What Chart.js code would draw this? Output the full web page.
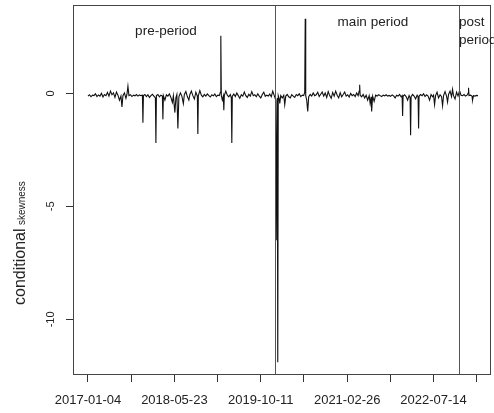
<!DOCTYPE html>
<html>
<head>
<meta charset="utf-8">
<script src="https://cdn.jsdelivr.net/npm/chart.js@4.4.1/dist/chart.umd.min.js"></script>
<style>
html,body{margin:0;padding:0;background:#fff;}
canvas{display:block;}
</style>
</head>
<body>
<canvas id="c" width="494" height="413"></canvas>
<script>
// ---- data (observation index, conditional skewness) ----
const obsIndex = [
  0,6,12,18,24,30,36,42,48,54,
  60,66,72,78,84,90,96,102,108,114,
  120,126,132,136,140,146,152,156,160,164,
  170,176,182,188,194,200,206,212,218,220,
  222,228,234,240,246,252,258,264,270,272,
  274,280,286,292,298,300,302,308,314,320,
  326,332,338,342,348,352,356,360,364,370,
  376,382,386,392,398,404,408,414,420,426,
  432,438,440,442,448,454,460,466,472,478,
  484,490,496,502,508,514,520,526,530,532,
  534,538,542,544,546,552,558,564,570,574,
  576,578,584,590,596,602,608,614,620,626,
  632,638,644,650,656,662,668,674,680,686,
  692,698,704,710,716,722,728,734,740,746,
  752,756,758,760,762,766,768,772,778,784,
  788,792,798,804,810,816,822,828,834,840,
  846,852,858,864,868,870,872,876,880,884,
  890,896,902,908,914,920,926,932,938,944,
  950,956,962,968,974,980,986,992,998,1004,
  1010,1016,1022,1028,1034,1040,1046,1052,1058,1064,
  1070,1076,1082,1086,1088,1090,1096,1102,1108,1114,
  1120,1126,1130,1134,1136,1140,1146,1152,1158,1164,
  1170,1176,1182,1188,1194,1200,1206,1212,1218,1224,
  1230,1236,1242,1248,1254,1258,1260,1262,1268,1274,
  1280,1286,1290,1292,1294,1300,1306,1312,1318,1322,
  1324,1326,1332,1338,1344,1350,1356,1362,1368,1374,
  1380,1384,1388,1392,1398,1404,1410,1416,1420,1424,
  1430,1436,1440,1444,1450,1456,1460,1464,1470,1476,
  1482,1488,1494,1500,1506,1512,1518,1522,1524,1526,
  1532,1538,1540,1544,1550,1556,1562
];
const skewness = [
  -0.12,-0.06,-0.15,-0.08,-0.1,-0.02,-0.14,-0.07,-0.12,0.0,
  -0.16,-0.05,-0.1,0.04,-0.12,0.1,-0.06,0.02,-0.18,0.06,
  -0.08,-0.3,-0.12,-0.6,-0.1,0.02,-0.22,-0.05,0.32,-0.1,
  -0.06,-0.14,-0.08,-0.11,-0.05,-0.12,-0.07,-0.1,-0.08,-1.3,
  -0.1,-0.05,-0.14,-0.06,-0.18,-0.1,-0.04,-0.12,-0.2,-2.2,
  -0.1,-0.05,-0.15,-0.08,-0.12,-1.15,-0.1,-0.3,-0.06,-0.12,
  -0.02,-0.18,-0.4,-0.1,-0.85,-0.2,-0.05,-1.55,-0.15,0.02,
  -0.12,-0.45,-0.05,0.08,-0.14,-0.3,-0.06,0.1,-0.1,-0.25,
  0.05,-0.12,-1.8,-0.1,0.12,-0.08,-0.15,-0.05,-0.12,-0.02,
  -0.1,-0.16,-0.06,-0.11,-0.03,-0.14,-0.08,-0.1,0.05,2.55,
  -0.1,-0.3,-0.12,-0.75,-0.1,0.1,-0.08,-0.15,-0.05,-0.2,
  -2.2,-0.12,-0.03,-0.14,0.02,-0.1,-0.22,-0.06,-0.12,0.06,
  -0.1,-0.18,-0.04,-0.12,0.08,-0.1,-0.06,-0.15,-0.02,-0.12,
  -0.2,-0.05,0.05,-0.13,-0.08,-0.12,-0.03,-0.15,0.1,-0.1,
  -0.3,-6.5,-0.2,-11.9,-0.1,-0.25,-0.45,-0.1,-0.2,-0.08,
  -0.5,-0.12,-0.05,-0.15,-0.2,-0.06,-0.12,-0.18,-0.05,-0.1,
  -0.02,-0.14,-0.08,-0.1,0.05,3.3,-0.1,-0.3,-0.8,-0.15,
  -0.05,-0.12,0.02,-0.1,-0.06,0.05,-0.14,-0.04,0.06,-0.12,
  0.02,-0.18,0.08,-0.1,-0.22,0.04,-0.12,0.1,-0.08,-0.2,
  0.03,-0.15,-0.05,0.06,-0.12,-0.06,-0.16,0.0,-0.1,-0.05,
  -0.14,0.02,-0.1,0.1,0.38,-0.08,-0.15,-0.05,-0.2,-0.08,
  -0.3,-0.1,-0.45,-0.15,-0.8,-0.12,-0.35,-0.08,-0.12,-0.06,
  -0.1,-0.14,-0.08,-0.11,-0.06,-0.12,-0.09,-0.13,-0.07,-0.11,
  -0.2,-0.08,-0.12,-0.05,-0.15,-0.1,-1.0,-0.12,-0.06,-0.14,
  -0.3,-0.1,-0.2,-1.85,-0.15,-0.05,-0.12,-0.25,-0.08,-0.15,
  -1.55,-0.12,-0.05,-0.1,-0.02,-0.14,-0.06,-0.12,-0.3,-0.05,
  -0.15,-0.08,-0.5,-0.1,0.05,-0.2,-0.06,-0.15,-0.55,-0.1,
  0.08,-0.12,-0.38,-0.05,0.1,-0.15,0.18,-0.1,-0.25,0.05,
  -0.12,0.12,-0.08,-0.1,-0.05,-0.12,-0.08,0.0,0.25,-0.1,
  -0.08,-0.12,-0.3,-0.1,-0.12,-0.09,-0.1
];
const xTickIndex = [0,173,346,519,692,865,1038,1211,1384,1557];
const xTickLabels = ['2017-01-04','','2018-05-23','','2019-10-11','','2021-02-26','','2022-07-14',''];
const yTickValues = [-10,-5,0];
const yTickLabels = ['-10','-5','0'];
const periodBreaks = [749,1486];
const periodNames = ['pre-period','main period','post\nperiod'];

const FONT = '"Liberation Sans", Arial, Helvetica, sans-serif';
const INK = '#222';

const decor = {
  id: 'decor',
  afterDraw(chart) {
    const {ctx, chartArea: a, scales: {x, y}} = chart;
    ctx.save();
    // period boundaries
    ctx.strokeStyle = '#555';
    ctx.lineWidth = 1;
    periodBreaks.forEach(b => {
      const px = Math.round(x.getPixelForValue(b)) + 0.5;
      ctx.beginPath(); ctx.moveTo(px, a.top); ctx.lineTo(px, a.bottom); ctx.stroke();
    });
    // box
    ctx.strokeStyle = '#444';
    ctx.strokeRect(Math.round(a.left) + 0.5, Math.round(a.top) + 0.5,
                   Math.round(a.right - a.left) - 1, Math.round(a.bottom - a.top) - 1);
    // y tick marks
    ctx.fillStyle = '#333';
    yTickValues.forEach(v => {
      const py = Math.round(y.getPixelForValue(v));
      ctx.fillRect(Math.round(a.left) - 7, py, 7, 1);
    });
    // period names
    ctx.fillStyle = INK;
    ctx.font = '13.5px ' + FONT;
    ctx.textBaseline = 'middle';
    ctx.textAlign = 'center';
    ctx.fillText(periodNames[0], x.getPixelForValue(312), y.getPixelForValue(2.75));
    ctx.fillText(periodNames[1], x.getPixelForValue(1141), y.getPixelForValue(3.15));
    ctx.textAlign = 'left';
    const post = periodNames[2].split('\n');
    ctx.fillText(post[0], x.getPixelForValue(periodBreaks[1]), y.getPixelForValue(3.15));
    ctx.fillText(post[1], x.getPixelForValue(periodBreaks[1]), y.getPixelForValue(2.37));
    // y tick labels (rotated, R style)
    ctx.font = '11px ' + FONT;
    ctx.textAlign = 'center';
    yTickValues.forEach((v, i) => {
      ctx.save();
      ctx.translate(51, y.getPixelForValue(v));
      ctx.rotate(-Math.PI / 2);
      ctx.fillText(yTickLabels[i], 0, 0);
      ctx.restore();
    });
    // y axis title
    ctx.save();
    ctx.translate(21, 305);
    ctx.rotate(-Math.PI / 2);
    ctx.textAlign = 'left';
    ctx.font = '16px ' + FONT;
    ctx.fillText('conditional', 0, 0);
    const w = ctx.measureText('conditional ').width;
    ctx.font = '10px ' + FONT;
    ctx.fillText('skewness', w - 1, 1);
    ctx.restore();
    ctx.restore();
  }
};

new Chart(document.getElementById('c'), {
  type: 'line',
  data: {
    datasets: [{
      data: obsIndex.map((v, i) => ({x: v, y: skewness[i]})),
      borderColor: '#111',
      borderWidth: 1.1,
      pointRadius: 0,
      tension: 0,
      fill: false
    }]
  },
  options: {
    responsive: false,
    animation: false,
    devicePixelRatio: 1,
    layout: {padding: {left: 0, right: 3, top: 5, bottom: 0}},
    plugins: {legend: {display: false}, tooltip: {enabled: false}},
    scales: {
      x: {
        type: 'linear',
        min: -60,
        max: 1614,
        afterBuildTicks: s => { s.ticks = xTickIndex.map(v => ({value: v})); },
        afterFit: s => { s.height = 38; },
        grid: {display: true, drawOnChartArea: false, drawTicks: true, tickLength: 7, color: '#333'},
        border: {display: false},
        ticks: {
          autoSkip: false,
          maxRotation: 0,
          minRotation: 0,
          padding: 11,
          color: INK,
          font: {family: FONT, size: 13},
          callback: (v) => { const k = xTickIndex.indexOf(v); return k >= 0 ? xTickLabels[k] : ''; }
        }
      },
      y: {
        type: 'linear',
        min: -12.46,
        max: 3.91,
        afterBuildTicks: s => { s.ticks = yTickValues.map(v => ({value: v})); },
        afterFit: s => { s.width = 73; },
        grid: {display: false},
        border: {display: false},
        ticks: {display: false}
      }
    }
  },
  plugins: [decor]
});
</script>
</body>
</html>
